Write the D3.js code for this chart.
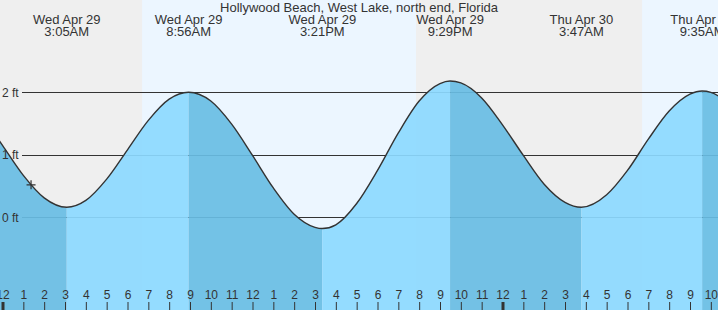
<!DOCTYPE html>
<html lang="en">
<head>
<meta charset="UTF-8">
<title>Tide Chart</title>
<script src="https://d3js.org/d3.v7.min.js"></script>
<style>
  body { margin: 0; padding: 0; background: #fff; }
  svg { display: block; font-family: Arial, "Liberation Sans", sans-serif; }
  .tick text { fill: #333; font-size: 12px; }
</style>
</head>
<body>
<script>

// ================== DATA ==================
var title = "Hollywood Beach, West Lake, north end, Florida";

// hours after midnight Wed Apr 29, height in ft
var hours = [-1, 0, 1, 2, 3, 4, 5, 6, 7, 8, 9, 10, 11, 12, 13, 14, 15, 16, 17, 18,
             19, 20, 21, 22, 23, 24, 25, 26, 27, 28, 29, 30, 31, 32, 33, 34, 35];
var heights = [1.63, 1.15, 0.67, 0.31, 0.16, 0.27, 0.61, 1.08, 1.55, 1.89, 2.00, 1.86,
               1.49, 0.99, 0.47, 0.05, -0.16, -0.12, 0.22, 0.75, 1.35, 1.86, 2.14, 2.15,
               1.91, 1.48, 0.99, 0.53, 0.24, 0.17, 0.36, 0.75, 1.25, 1.70, 1.97, 2.00, 1.78];

// high / low tides
var extremeTimes = [3.083, 8.933, 15.35, 21.483, 27.783, 33.583];
var extremeHeights = [0.16, 2.00, -0.18, 2.18, 0.16, 2.02];
var extremeDays = ["Wed Apr 29", "Wed Apr 29", "Wed Apr 29", "Wed Apr 29", "Thu Apr 30", "Thu Apr 30"];
var extremeClock = ["3:05AM", "8:56AM", "3:21PM", "9:29PM", "3:47AM", "9:35AM"];

// daylight
var sunrise = [6.7, 30.7];
var sunset = [19.85, 43.8];

var feetTicks = [0, 1, 2];
var hourTicks = d3.range(0, 35);
var nowTime = 1.37, nowHeight = 0.52;

// ================== INIT SVG ==================
var w = 718, h = 310;
var svg = d3.select("body").append("svg")
    .attr("width", w)
    .attr("height", h);

// ================== SCALES ==================
var x = d3.scaleLinear().domain([0, 24]).range([2.5, 502.5]);
var y = d3.scaleLinear().domain([0, 2]).range([217.3, 92.3]);

// background: night everywhere, day bands on top
svg.append("rect")
    .attr("width", w).attr("height", h)
    .attr("fill", "#efefef");
svg.selectAll(".day")
    .data(sunrise)
    .enter().append("rect")
    .attr("class", "day")
    .attr("x", function(d){ return x(d); })
    .attr("width", function(d, i){ return x(sunset[i]) - x(d); })
    .attr("y", 0).attr("height", h)
    .attr("fill", "#ecf6ff");

// grid lines (under water)
svg.selectAll(".grid")
    .data(feetTicks)
    .enter().append("line")
    .attr("class", "grid")
    .attr("x1", 22).attr("x2", w)
    .attr("y1", function(d){ return Math.round(y(d)) + 0.5; })
    .attr("y2", function(d){ return Math.round(y(d)) + 0.5; })
    .attr("stroke", "#333").attr("stroke-width", 1);

// ================== WATER ==================
var pts = hours.map(function(t, i){ return { t: t, v: heights[i] }; });
extremeTimes.forEach(function(t, i){
    pts = pts.filter(function(p){ return Math.abs(p.t - t) > 0.3; });
    pts.push({ t: t, v: extremeHeights[i] });
});
pts.sort(function(a, b){ return a.t - b.t; });

var area = d3.area()
    .x(function(d){ return x(d.t); })
    .y0(h)
    .y1(function(d){ return y(d.v); })
    .curve(d3.curveMonotoneX);
var line = d3.line()
    .x(function(d){ return x(d.t); })
    .y(function(d){ return y(d.v); })
    .curve(d3.curveMonotoneX);

svg.append("clipPath").attr("id", "water")
    .append("path").attr("d", area(pts));

// segments between extremes: falling = dark, rising = light
var bounds = [-2].concat(extremeTimes).concat([40]);
var segs = [];
for (var i = 0; i < bounds.length - 1; i++) {
    segs.push({ a: bounds[i], b: bounds[i + 1], falling: i % 2 === 0 });
}
svg.append("g")
    .attr("clip-path", "url(#water)")
    .selectAll("rect")
    .data(segs)
    .enter().append("rect")
    .attr("x", function(d){ return x(d.a); })
    .attr("width", function(d){ return x(d.b) - x(d.a); })
    .attr("y", 0).attr("height", h)
    .attr("fill", function(d){ return d.falling ? "#68bde4" : "#8cd9ff"; })
    .attr("fill-opacity", 0.92);

svg.append("path")
    .attr("d", line(pts))
    .attr("fill", "none")
    .attr("stroke", "#333")
    .attr("stroke-width", 1.4);

// feet labels on top of the water
svg.selectAll(".ylab")
    .data(feetTicks)
    .enter().append("text")
    .attr("class", "ylab")
    .attr("x", 2)
    .attr("y", function(d){ return y(d) + 4.5; })
    .attr("font-size", 12).attr("fill", "#333")
    .text(function(d){ return d + " ft"; });

// current time marker
svg.append("path")
    .attr("transform", "translate(" + x(nowTime) + "," + y(nowHeight) + ")")
    .attr("d", "M-4.5,0H4.5M0,-4.5V4.5")
    .attr("stroke", "#333").attr("stroke-width", 1.2);

// ================== AXIS ==================
var xAxis = d3.axisTop(x)
    .tickValues(hourTicks)
    .tickSize(8)
    .tickFormat(function(d){ var hr = d % 12; return hr === 0 ? "12" : hr; });

var ax = svg.append("g")
    .attr("transform", "translate(0," + h + ")")
    .call(xAxis);
ax.select(".domain").remove();
ax.selectAll(".tick line")
    .attr("stroke", "#333")
    .attr("stroke-width", function(d){ return d % 24 === 0 ? 3 : 1; });
ax.selectAll(".tick text")
    .attr("font-family", "Arial, 'Liberation Sans', sans-serif")
    .attr("font-size", 12);

// ================== LABELS ==================
svg.append("text")
    .attr("x", w / 2).attr("y", 12)
    .attr("text-anchor", "middle")
    .attr("font-size", 13).attr("fill", "#333")
    .text(title);

var labs = svg.selectAll(".ext")
    .data(extremeTimes)
    .enter().append("g")
    .attr("class", "ext")
    .attr("transform", function(d){ return "translate(" + x(d) + ",0)"; });
labs.append("text")
    .attr("y", 24)
    .attr("text-anchor", "middle")
    .attr("font-size", 13).attr("fill", "#333")
    .text(function(d, i){ return extremeDays[i]; });
labs.append("text")
    .attr("y", 35.5)
    .attr("text-anchor", "middle")
    .attr("font-size", 13).attr("fill", "#333")
    .text(function(d, i){ return extremeClock[i]; });

</script>
</body>
</html>
